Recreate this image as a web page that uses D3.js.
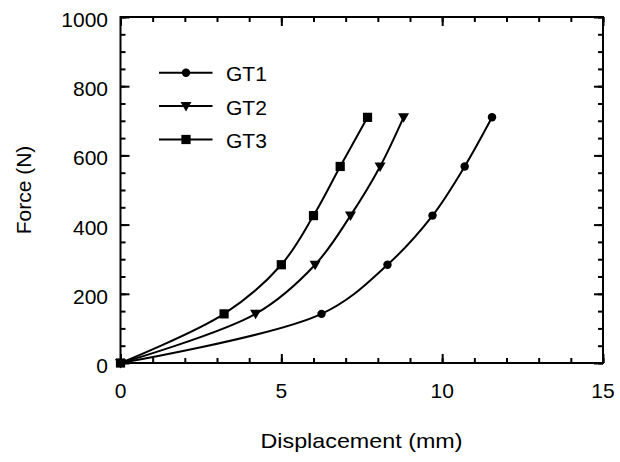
<!DOCTYPE html>
<html>
<head>
<meta charset="utf-8">
<script src="https://cdn.jsdelivr.net/npm/d3@7"></script>
<style>
  html, body { margin: 0; padding: 0; background: #fff; }
  svg { display: block; font-family: "Liberation Sans", Arial, sans-serif; }
</style>
</head>
<body>
<svg id="chart" width="620" height="462"></svg>
<script>
// Force–displacement data for three specimens
const seriesNames = ["GT1", "GT2", "GT3"];
const force = [0, 142, 284, 426, 568, 710];
const dispGT1 = [0, 6.25, 8.3, 9.7, 10.7, 11.55];
const dispGT2 = [0, 4.2, 6.05, 7.15, 8.07, 8.8];
const dispGT3 = [0, 3.22, 5.0, 6.0, 6.83, 7.68];
const xTicks = [0, 5, 10, 15];
const yTicks = [0, 200, 400, 600, 800, 1000];

const series = [
  { name: seriesNames[0], symbol: d3.symbolCircle, size: 56, pts: dispGT1.map((v, i) => [v, force[i]]) },
  { name: seriesNames[1], symbol: "tri", size: 0, pts: dispGT2.map((v, i) => [v, force[i]]) },
  { name: seriesNames[2], symbol: d3.symbolSquare, size: 85, pts: dispGT3.map((v, i) => [v, force[i]]) }
];

const svg = d3.select("#chart");
const plotL = 120.5, plotR = 603, plotT = 17, plotB = 363;

const x = d3.scaleLinear().domain([0, 15]).range([plotL, plotR]);
const y = d3.scaleLinear().domain([0, 1000]).range([plotB, plotT]);

const fontSize = 21;
const major = 9, minor = 5, sw = 2;

// Tick marks pointing inward on all four sides
const g = svg.append("g");
function ticks(axis, vals, len) {
  return axis.tickValues(vals).tickSize(len).tickFormat("");
}
const xMinor = d3.range(0, 15.01, 1);
const yMinor = d3.range(0, 1000.1, 50);

g.append("g").attr("transform", `translate(0,${plotB})`).call(ticks(d3.axisTop(x), xMinor, minor));
g.append("g").attr("transform", `translate(0,${plotT})`).call(ticks(d3.axisBottom(x), xMinor, minor));
g.append("g").attr("transform", `translate(0,${plotB})`).call(ticks(d3.axisTop(x), xTicks, major));
g.append("g").attr("transform", `translate(0,${plotT})`).call(ticks(d3.axisBottom(x), xTicks, major));
g.append("g").attr("transform", `translate(${plotL},0)`).call(ticks(d3.axisRight(y), yMinor, minor));
g.append("g").attr("transform", `translate(${plotL},0)`).call(ticks(d3.axisRight(y), yTicks, major));
g.append("g").attr("transform", `translate(${plotR},0)`).call(ticks(d3.axisLeft(y), yMinor, minor));
g.append("g").attr("transform", `translate(${plotR},0)`).call(ticks(d3.axisLeft(y), yTicks, major));
g.selectAll(".domain").remove();
g.selectAll(".tick line").attr("stroke", "#000").attr("stroke-width", sw);

// Frame
svg.append("rect")
  .attr("x", plotL).attr("y", plotT)
  .attr("width", plotR - plotL).attr("height", plotB - plotT)
  .attr("fill", "none").attr("stroke", "#000").attr("stroke-width", sw);

// Tick labels
svg.append("g").selectAll("text").data(xTicks).join("text")
  .attr("x", d => x(d)).attr("y", 398)
  .attr("text-anchor", "middle").attr("font-size", fontSize)
  .text(d => d);
svg.append("g").selectAll("text").data(yTicks).join("text")
  .attr("x", 108).attr("y", d => y(d) + 10)
  .attr("text-anchor", "end").attr("font-size", fontSize)
  .text(d => d);

// Axis titles
svg.append("text")
  .attr("x", 260.5).attr("y", 447.5)
  .attr("font-size", fontSize)
  .attr("textLength", 202).attr("lengthAdjust", "spacingAndGlyphs")
  .text("Displacement (mm)");
svg.append("text")
  .attr("transform", `translate(31,${(plotT + plotB) / 2}) rotate(-90)`)
  .attr("text-anchor", "middle").attr("font-size", fontSize)
  .text("Force (N)");

// Marker drawing
function marker(sel, s) {
  if (s.symbol === "tri") {
    sel.append("path").attr("d", "M-5.5,-4L5.5,-4L0,5.5Z").attr("fill", "#000");
  } else {
    sel.append("path").attr("d", d3.symbol(s.symbol, s.size)()).attr("fill", "#000");
  }
}

const line = d3.line()
  .x(d => x(d[0])).y(d => y(d[1]))
  .curve(d3.curveCatmullRom.alpha(0.5));

series.forEach(s => {
  svg.append("path").datum(s.pts)
    .attr("d", line)
    .attr("fill", "none").attr("stroke", "#000").attr("stroke-width", 2);
  s.pts.forEach(p => {
    const m = svg.append("g").attr("transform", `translate(${x(p[0])},${y(p[1])})`);
    marker(m, s);
  });
});

// Legend
const legendY = [72.7, 106, 139.5];
series.forEach((s, i) => {
  const ly = legendY[i];
  svg.append("line")
    .attr("x1", 159).attr("x2", 212.5).attr("y1", ly).attr("y2", ly)
    .attr("stroke", "#000").attr("stroke-width", 2);
  const m = svg.append("g").attr("transform", `translate(186,${ly})`);
  marker(m, s);
  svg.append("text")
    .attr("x", 226).attr("y", ly + 8.5)
    .attr("font-size", fontSize)
    .text(s.name);
});
</script>
</body>
</html>
